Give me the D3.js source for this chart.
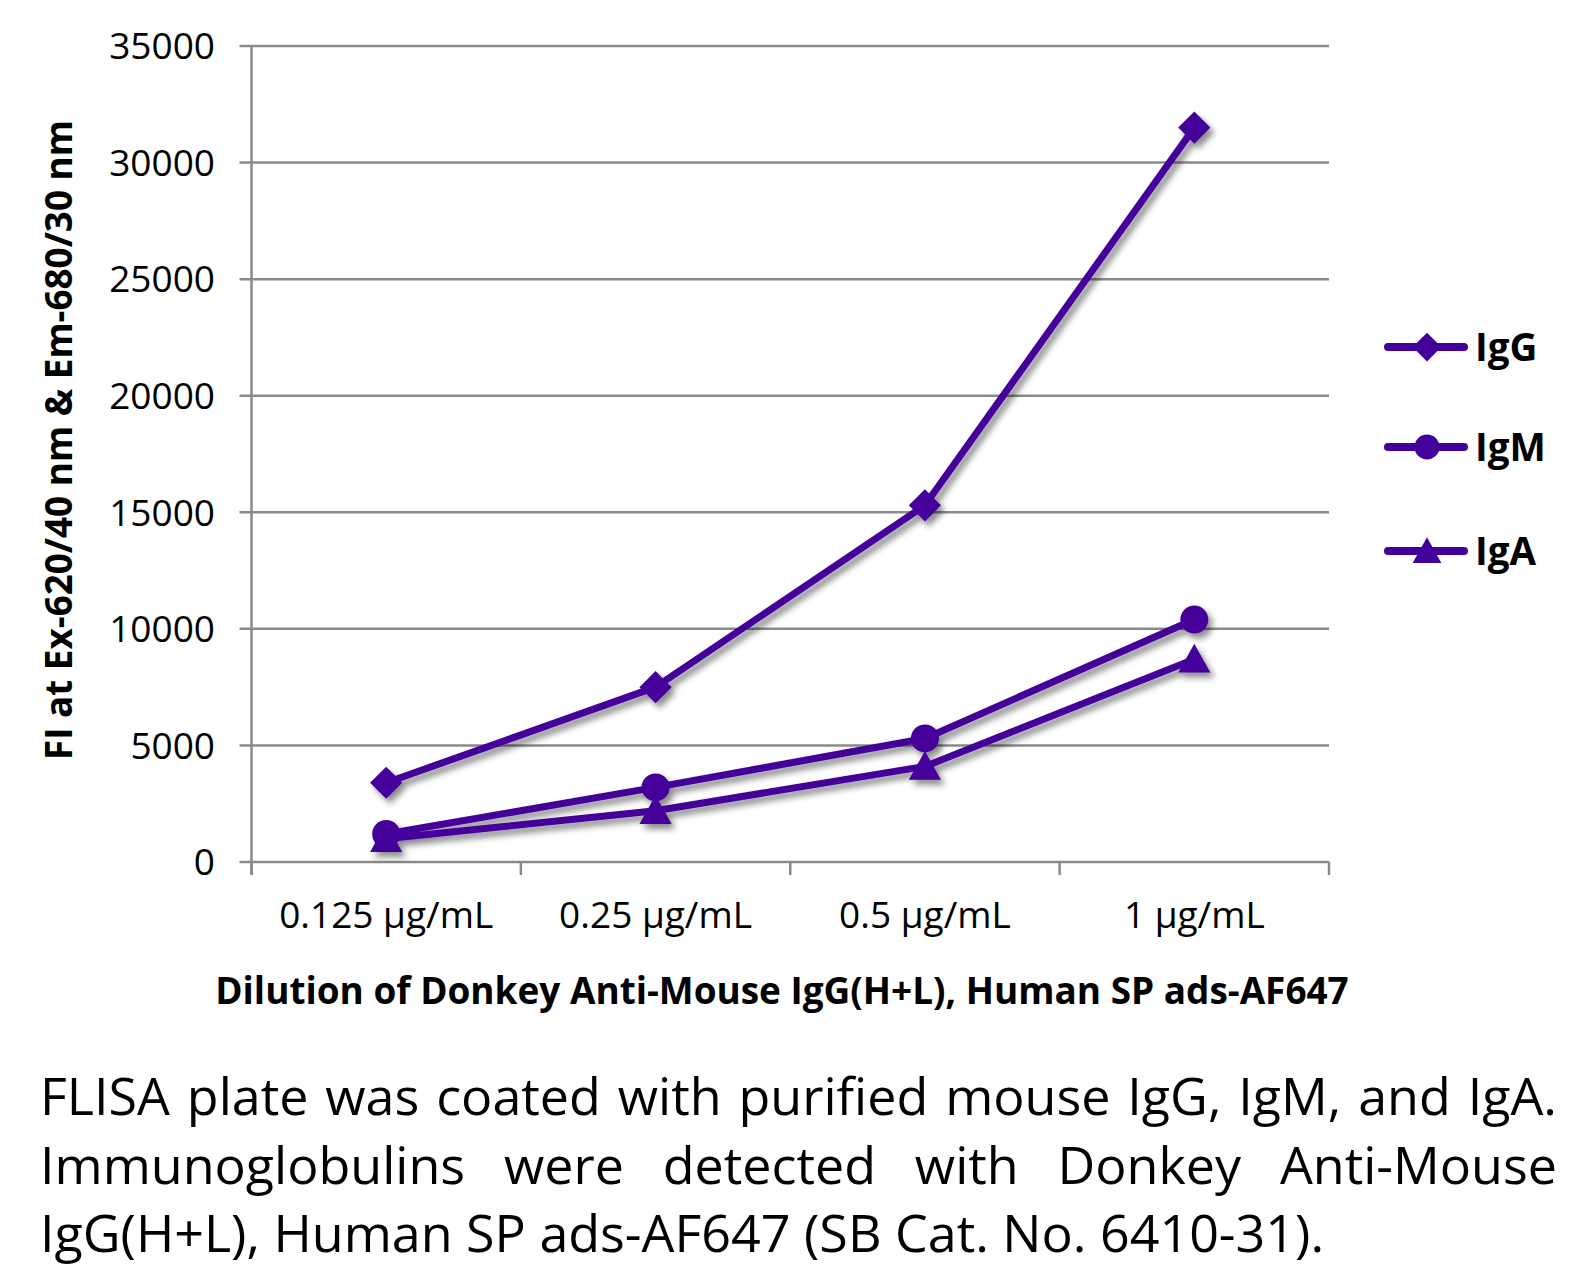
<!DOCTYPE html>
<html><head><meta charset="utf-8">
<script src="https://cdn.jsdelivr.net/npm/d3@7"></script>
<style>body{margin:0;background:#fff}svg{display:block}text{font-family:"Open Sans",sans-serif;fill:#000}</style>
</head><body>
<svg id="c" width="1590" height="1270"></svg>
<script>
const categories = ["0.125 µg/mL","0.25 µg/mL","0.5 µg/mL","1 µg/mL"];
const seriesNames = ["IgG","IgM","IgA"];
const igG = [3400, 7500, 15300, 31500];
const igM = [1200, 3200, 5300, 10400];
const igA = [1000, 2200, 4100, 8700];
const yTicks = [0,5000,10000,15000,20000,25000,30000,35000];
const xTitle = "Dilution of Donkey Anti-Mouse IgG(H+L), Human SP ads-AF647";
const yTitle = "FI at Ex-620/40 nm & Em-680/30 nm";
const caption = ["FLISA plate was coated with purified mouse IgG, IgM, and IgA.",
  "Immunoglobulins were detected with Donkey Anti-Mouse",
  "IgG(H+L), Human SP ads-AF647 (SB Cat. No. 6410-31)."];

const series = [
  {name: seriesNames[0], values: igG, shape: "diamond"},
  {name: seriesNames[1], values: igM, shape: "circle"},
  {name: seriesNames[2], values: igA, shape: "triangle"}
];
const color = "#44009a";
const grid = "#8a8a8a";
const svg = d3.select("#c");

const defs = svg.append("defs");
const f = defs.append("filter").attr("id","sh").attr("x","-20%").attr("y","-20%").attr("width","140%").attr("height","140%");
f.append("feDropShadow").attr("dx",4).attr("dy",5).attr("stdDeviation",3).attr("flood-color","#000").attr("flood-opacity",0.45);

const L = 251.5, R = 1329, T = 46, B = 862;
const x = d3.scaleBand().domain(categories).range([L,R]);
const y = d3.scaleLinear().domain([0,35000]).range([B,T]);

svg.append("g").selectAll("line").data(yTicks).join("line")
  .attr("x1",L-12).attr("x2",R).attr("y1",d=>y(d)).attr("y2",d=>y(d))
  .attr("stroke",grid).attr("stroke-width",2.5);
svg.append("line").attr("x1",L).attr("x2",L).attr("y1",T).attr("y2",B+13).attr("stroke",grid).attr("stroke-width",2.5);
const bounds = categories.map(c=>x(c)).concat([x(categories[categories.length-1])+x.bandwidth()]);
svg.append("g").selectAll("line").data(bounds).join("line")
  .attr("x1",d=>d).attr("x2",d=>d).attr("y1",B).attr("y2",B+13).attr("stroke",grid).attr("stroke-width",2.5);

svg.append("g").selectAll("text").data(yTicks).join("text")
  .attr("x",215).attr("y",d=>y(d)).attr("dy","0.36em").attr("text-anchor","end")
  .style("font-size","37px").text(d=>d);
svg.append("g").selectAll("text").data(categories).join("text")
  .attr("x",d=>x(d)+x.bandwidth()/2).attr("y",928).attr("text-anchor","middle")
  .style("font-size","37px").text(d=>d);

function fitText(sel, target){
  const w = sel.node().getComputedTextLength();
  const fs = parseFloat(sel.style("font-size"));
  sel.style("font-size",(fs*target/w)+"px");
}
const xt = svg.append("text").attr("x",782).attr("y",1004).attr("text-anchor","middle")
  .style("font-size","36px").style("font-weight","bold").text(xTitle);
fitText(xt,1134);
const yt = svg.append("text").attr("transform","translate(72,440) rotate(-90)").attr("text-anchor","middle")
  .style("font-size","36px").style("font-weight","bold").text(yTitle);
fitText(yt,640);

function marker(g, shape, cx, cy, s){
  if(shape==="diamond"){
    g.append("path").attr("d",`M${cx},${cy-s*1.15}L${cx+s*1.15},${cy}L${cx},${cy+s*1.15}L${cx-s*1.15},${cy}Z`).attr("fill",color);
  } else if(shape==="circle"){
    g.append("circle").attr("cx",cx).attr("cy",cy).attr("r",s).attr("fill",color);
  } else {
    g.append("path").attr("d",`M${cx},${cy-s*1.1}L${cx+s*1.15},${cy+s*0.95}L${cx-s*1.15},${cy+s*0.95}Z`).attr("fill",color);
  }
}

const cx = d=>x(d)+x.bandwidth()/2;
const line = d3.line().x((v,i)=>cx(categories[i])).y(v=>y(v));
const plot = svg.append("g").attr("filter","url(#sh)");
series.slice().reverse().forEach(s=>{
  const g = plot.append("g");
  g.append("path").attr("d",line(s.values)).attr("fill","none").attr("stroke",color).attr("stroke-width",7).attr("stroke-linejoin","round");
  s.values.forEach((v,i)=>marker(g,s.shape,cx(categories[i]),y(v),14));
});

const legY = [347,447,551];
series.forEach((s,i)=>{
  const g = svg.append("g");
  g.append("line").attr("x1",1388).attr("x2",1464).attr("y1",legY[i]).attr("y2",legY[i])
    .attr("stroke",color).attr("stroke-width",8).attr("stroke-linecap","round");
  marker(g,s.shape,1427,legY[i],12.5);
  g.append("text").attr("x",1475).attr("y",legY[i]).attr("dy","0.36em")
    .style("font-size","38.5px").style("font-weight","bold").text(s.name);
});

const capY = [1115,1184,1252];
caption.forEach((t,i)=>{
  const tx = svg.append("text").attr("x",40).attr("y",capY[i]).style("font-size","52px").text(t);
  if(i<2){
    const w = tx.node().getComputedTextLength();
    const n = t.split(" ").length-1;
    tx.attr("word-spacing",((1557-40)-w)/n);
  }
});
</script>
</body></html>
